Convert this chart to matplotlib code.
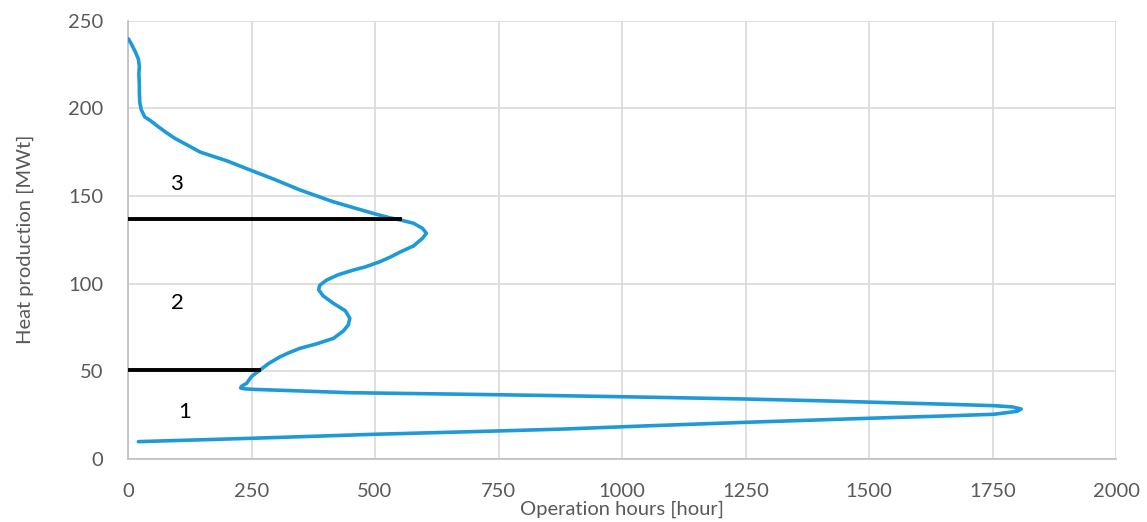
import matplotlib.pyplot as plt

# curve (operation hours, heat production)
hours = [1, 8, 15, 21, 23, 22, 23, 23, 24, 27, 34, 45, 61, 78, 95, 120,
         146, 200, 247, 300, 348, 415, 460, 503, 530, 551, 578, 596, 604,
         596, 578, 551, 530, 510, 480, 456, 425, 402, 388, 386, 395, 416,
         440, 449, 446, 436, 416, 380, 348, 325, 308, 285, 267, 250, 240,
         230, 228, 236, 254, 348, 449, 660, 874, 1060, 1249, 1400, 1542,
         1660, 1753, 1790, 1808, 1800, 1753, 1650, 1542, 1400, 1249, 1060,
         874, 750, 500, 250, 21]
heat = [239.5, 236, 232, 228, 224, 219.6, 213, 208.5, 203, 199, 195, 193,
        189.5, 186, 182.8, 179, 175, 170, 164.8, 159, 153.4, 146.7, 143,
        139.5, 137.5, 136.3, 134.4, 131.5, 128.7, 125.8, 121.5, 118, 115,
        112.5, 109.5, 107.7, 105, 102, 99, 96.5, 93, 88.7, 84.5, 80.2, 76.5,
        73, 68.8, 65.5, 63.1, 60.5, 58.3, 54.5, 50.7, 47, 43.1, 41.5, 40.5,
        40, 39.7, 38.8, 37.8, 37, 36.1, 35.2, 34.2, 33.2, 32.1, 31.2, 30.4,
        29.7, 28.5, 27.2, 25.5, 24.5, 23.6, 22.3, 20.9, 19, 17, 16, 14.1,
        11.8, 9.9]

# section boundaries and labels
bound_y = [137, 51]
bound_x = [550, 265]
lab_text = ["3", "2", "1"]
lab_x = [99, 101, 115]
lab_y = [157, 89, 27]

plt.rcParams["font.family"] = ["Lato", "DejaVu Sans"]
grey = "#595959"

fig = plt.figure(figsize=(11.47, 5.22), dpi=100)
ax = fig.add_axes([0.1116, 0.1207, 0.8614, 0.84])

ax.plot(hours, heat, color="#1f9ad8", lw=2.6, solid_capstyle="round",
        solid_joinstyle="round", zorder=3)
for y, x in zip(bound_y, bound_x):
    ax.plot([0, x], [y, y], color="black", lw=2.8, zorder=4)
for t, x, y in zip(lab_text, lab_x, lab_y):
    ax.text(x, y, t, fontsize=16, color="black", ha="center", va="center")

ax.set_xlim(0, 2000)
ax.set_ylim(0, 250)
ax.set_xticks(range(0, 2001, 250))
ax.set_yticks(range(0, 251, 50))
ax.grid(True, color="#d9d9d9", lw=1.2)
ax.set_axisbelow(True)
for s in ["top", "right"]:
    ax.spines[s].set_visible(False)
for s in ["left", "bottom"]:
    ax.spines[s].set_color("#bfbfbf")
    ax.spines[s].set_linewidth(1.2)
ax.tick_params(length=0, labelsize=14.5, colors=grey)
ax.tick_params(axis="x", pad=17)
ax.tick_params(axis="y", pad=18)
ax.set_xlabel("Operation hours [hour]", fontsize=14.5, color=grey, labelpad=1)
ax.set_ylabel("Heat production [MWt]", fontsize=14.5, color=grey, labelpad=24)

fig.savefig("out.png", dpi=100)
